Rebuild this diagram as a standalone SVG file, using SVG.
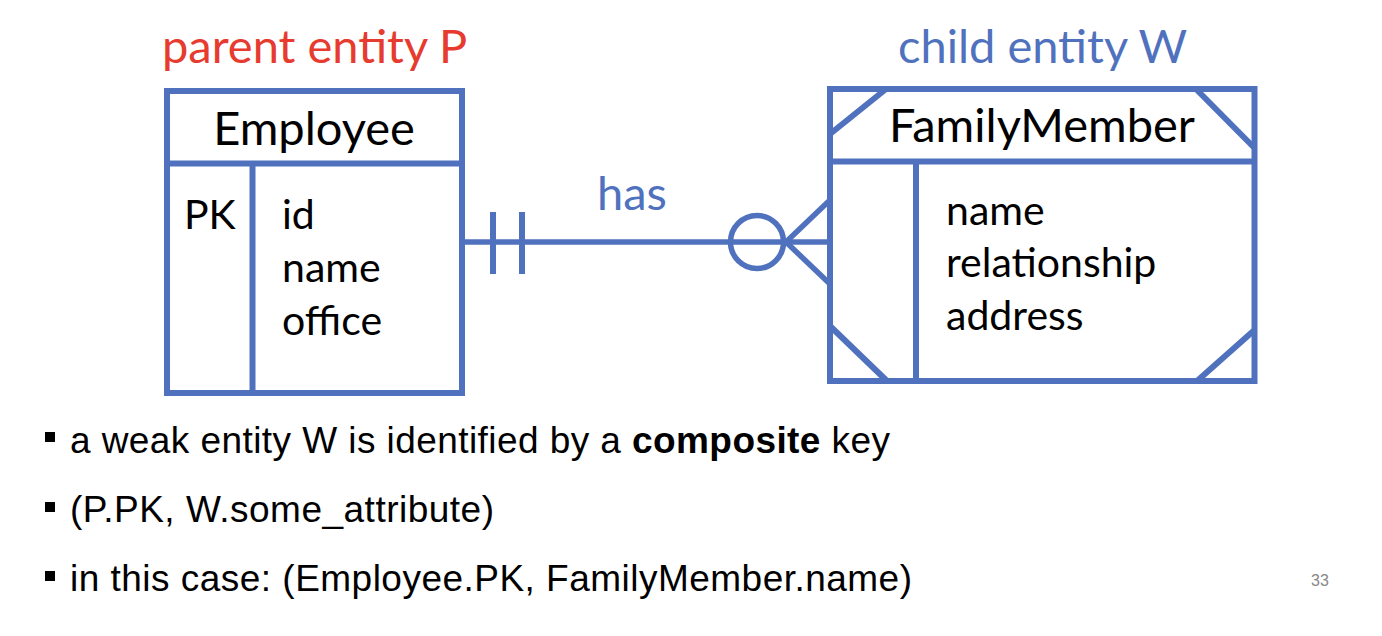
<svg xmlns="http://www.w3.org/2000/svg" width="1382" height="636" viewBox="0 0 1382 636">
<style>
.ln{stroke:#5072BE;stroke-width:6;fill:none;stroke-linecap:butt}
.cn{stroke:#5072BE;stroke-width:5.5;fill:none}
.title{font-family:Lato,"Open Sans",sans-serif;font-size:47px;fill:#000}
.attr{font-family:Lato,"Open Sans",sans-serif;font-size:41px;fill:#000}
.lbl{font-family:Lato,"Open Sans",sans-serif;font-size:47px}
.bul{font-family:"Liberation Sans",Arial,sans-serif;font-size:37px;fill:#000}
</style>
<rect width="1382" height="636" fill="#fff"/>
<text class="lbl" x="162" y="63" fill="#E63B2E">parent entity P</text>
<text class="lbl" x="898" y="63" fill="#5072BE">child entity W</text>
<g id="employee">
<rect class="ln" x="167" y="91" width="295" height="302"/>
<line class="ln" x1="167" y1="163.5" x2="462" y2="163.5"/>
<line class="ln" x1="252.5" y1="163.5" x2="252.5" y2="393"/>
<text class="title" x="314" y="145" text-anchor="middle">Employee</text>
<text class="attr" x="184" y="229">PK</text>
<text class="attr" x="282" y="229">id</text>
<text class="attr" x="282" y="282">name</text>
<text class="attr" x="282" y="335">office</text>
</g>
<g id="familymember">
<rect class="ln" x="830" y="89" width="424.5" height="292"/>
<line class="ln" x1="830" y1="161.5" x2="1254.5" y2="161.5"/>
<line class="ln" x1="916" y1="161.5" x2="916" y2="381"/>
<line class="ln" x1="886" y1="89" x2="830" y2="134"/>
<line class="ln" x1="1196" y1="89" x2="1254.5" y2="148"/>
<line class="ln" x1="830" y1="326" x2="887" y2="381"/>
<line class="ln" x1="1254.5" y1="330" x2="1197" y2="381"/>
<text class="title" x="1042" y="142" text-anchor="middle">FamilyMember</text>
<text class="attr" x="946" y="225">name</text>
<text class="attr" x="946" y="277">relationship</text>
<text class="attr" x="946" y="330">address</text>
</g>
<g id="connectors">
<line class="cn" x1="464" y1="242" x2="830" y2="242"/>
<line class="ln" x1="493" y1="212" x2="493" y2="274"/>
<line class="ln" x1="522" y1="212" x2="522" y2="274"/>
<circle class="cn" cx="757" cy="242" r="26.5"/>
<line class="cn" x1="786" y1="242" x2="830" y2="200"/>
<line class="cn" x1="786" y1="242" x2="830" y2="284"/>
<text class="lbl" x="597" y="210" font-size="45" fill="#5072BE">has</text>
</g>
<g id="bullets">
<rect x="45" y="432" width="10" height="10" fill="#000"/>
<rect x="45" y="502" width="10" height="10" fill="#000"/>
<rect x="45" y="571" width="10" height="10" fill="#000"/>
<text class="bul" x="70" y="453" textLength="820">a weak entity W is identified by a <tspan font-weight="bold">composite</tspan> key</text>
<text class="bul" x="70" y="522" textLength="424">(P.PK, W.some_attribute)</text>
<text class="bul" x="70" y="591" textLength="842">in this case: (Employee.PK, FamilyMember.name)</text>
</g>
<text x="1320" y="586" font-family="'Liberation Sans',Arial,sans-serif" font-size="16" fill="#888" text-anchor="middle">33</text>
</svg>
